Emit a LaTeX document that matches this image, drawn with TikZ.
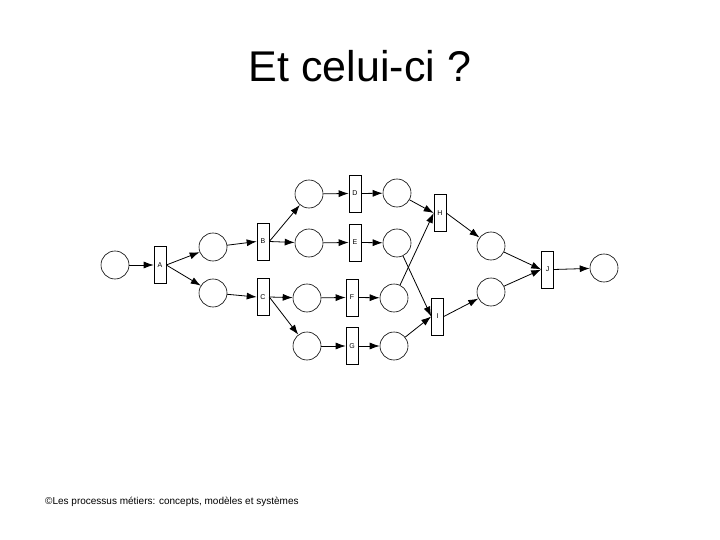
\documentclass[tikz,border=0pt]{standalone}
\usepackage{fontspec}
\setmainfont{Liberation Sans}
\usetikzlibrary{arrows.meta}
\begin{document}
\begin{tikzpicture}[x=1pt,y=-1pt,
  place/.style={circle,draw,line width=0.6pt,minimum size=28pt,inner sep=0pt},
  trans/.style={rectangle,draw,line width=0.6pt,minimum width=12pt,minimum height=37pt,inner sep=0pt,font=\fontsize{7}{8}\selectfont},
  arc/.style={draw,line width=0.8pt,-{Latex[length=10pt,width=7pt]}}]
\useasboundingbox[fill=white] (0,0) rectangle (720,540);
\node[anchor=base,font=\fontsize{43}{50}\selectfont] (title) at (360,82) {Et celui-ci ?};
\node[anchor=base west,inner sep=0pt,font=\fontsize{10}{12}\selectfont] (foot) at (45,504) {©Les processus métiers: concepts, modèles et systèmes};
\node[place] (p0) at (115,265) {};
\node[trans] (A) at (160,265) {A};
\node[place] (p1) at (213,247) {};
\node[place] (p2) at (213,293) {};
\node[trans] (B) at (263,241.5) {B};
\node[trans] (C) at (263,297) {C};
\node[place] (p3) at (309,194) {};
\node[trans] (D) at (355,193.5) {D};
\node[place] (p4) at (397,193) {};
\node[place] (p5) at (309,243) {};
\node[trans] (E) at (355,242.5) {E};
\node[place] (p6) at (397,243) {};
\node[place] (p7) at (307,298) {};
\node[trans] (F) at (352,297.5) {F};
\node[place] (p8) at (394,298) {};
\node[place] (p9) at (307,346) {};
\node[trans] (G) at (352,346) {G};
\node[place] (p10) at (394,346) {};
\node[trans] (H) at (440,213) {H};
\node[trans] (I) at (437.5,316.5) {I};
\node[place] (p11) at (491,246) {};
\node[place] (p12) at (491,292) {};
\node[trans] (J) at (547.5,269.5) {J};
\node[place] (p13) at (604,268) {};
\path[arc] (p0) -- (A.west);
\path[arc] (A.east) -- (p1);
\path[arc] (A.east) -- (p2);
\path[arc] (p1) -- (B.west);
\path[arc] (p2) -- (C.west);
\path[arc] (B.east) -- (p3);
\path[arc] (B.east) -- (p5);
\path[arc] (C.east) -- (p7);
\path[arc] (C.east) -- (p9);
\path[arc] (p3) -- (D.west);
\path[arc] (D.east) -- (p4);
\path[arc] (p5) -- (E.west);
\path[arc] (E.east) -- (p6);
\path[arc] (p7) -- (F.west);
\path[arc] (F.east) -- (p8);
\path[arc] (p9) -- (G.west);
\path[arc] (G.east) -- (p10);
\path[arc] (p4) -- (H.west);
\path[arc] (p8) -- (H.west);
\path[arc] (p6) -- (I.west);
\path[arc] (p10) -- (I.west);
\path[arc] (H.east) -- (p11);
\path[arc] (I.east) -- (p12);
\path[arc] (p11) -- (J.west);
\path[arc] (p12) -- (J.west);
\path[arc] (J.east) -- (p13);
\end{tikzpicture}
\end{document}
